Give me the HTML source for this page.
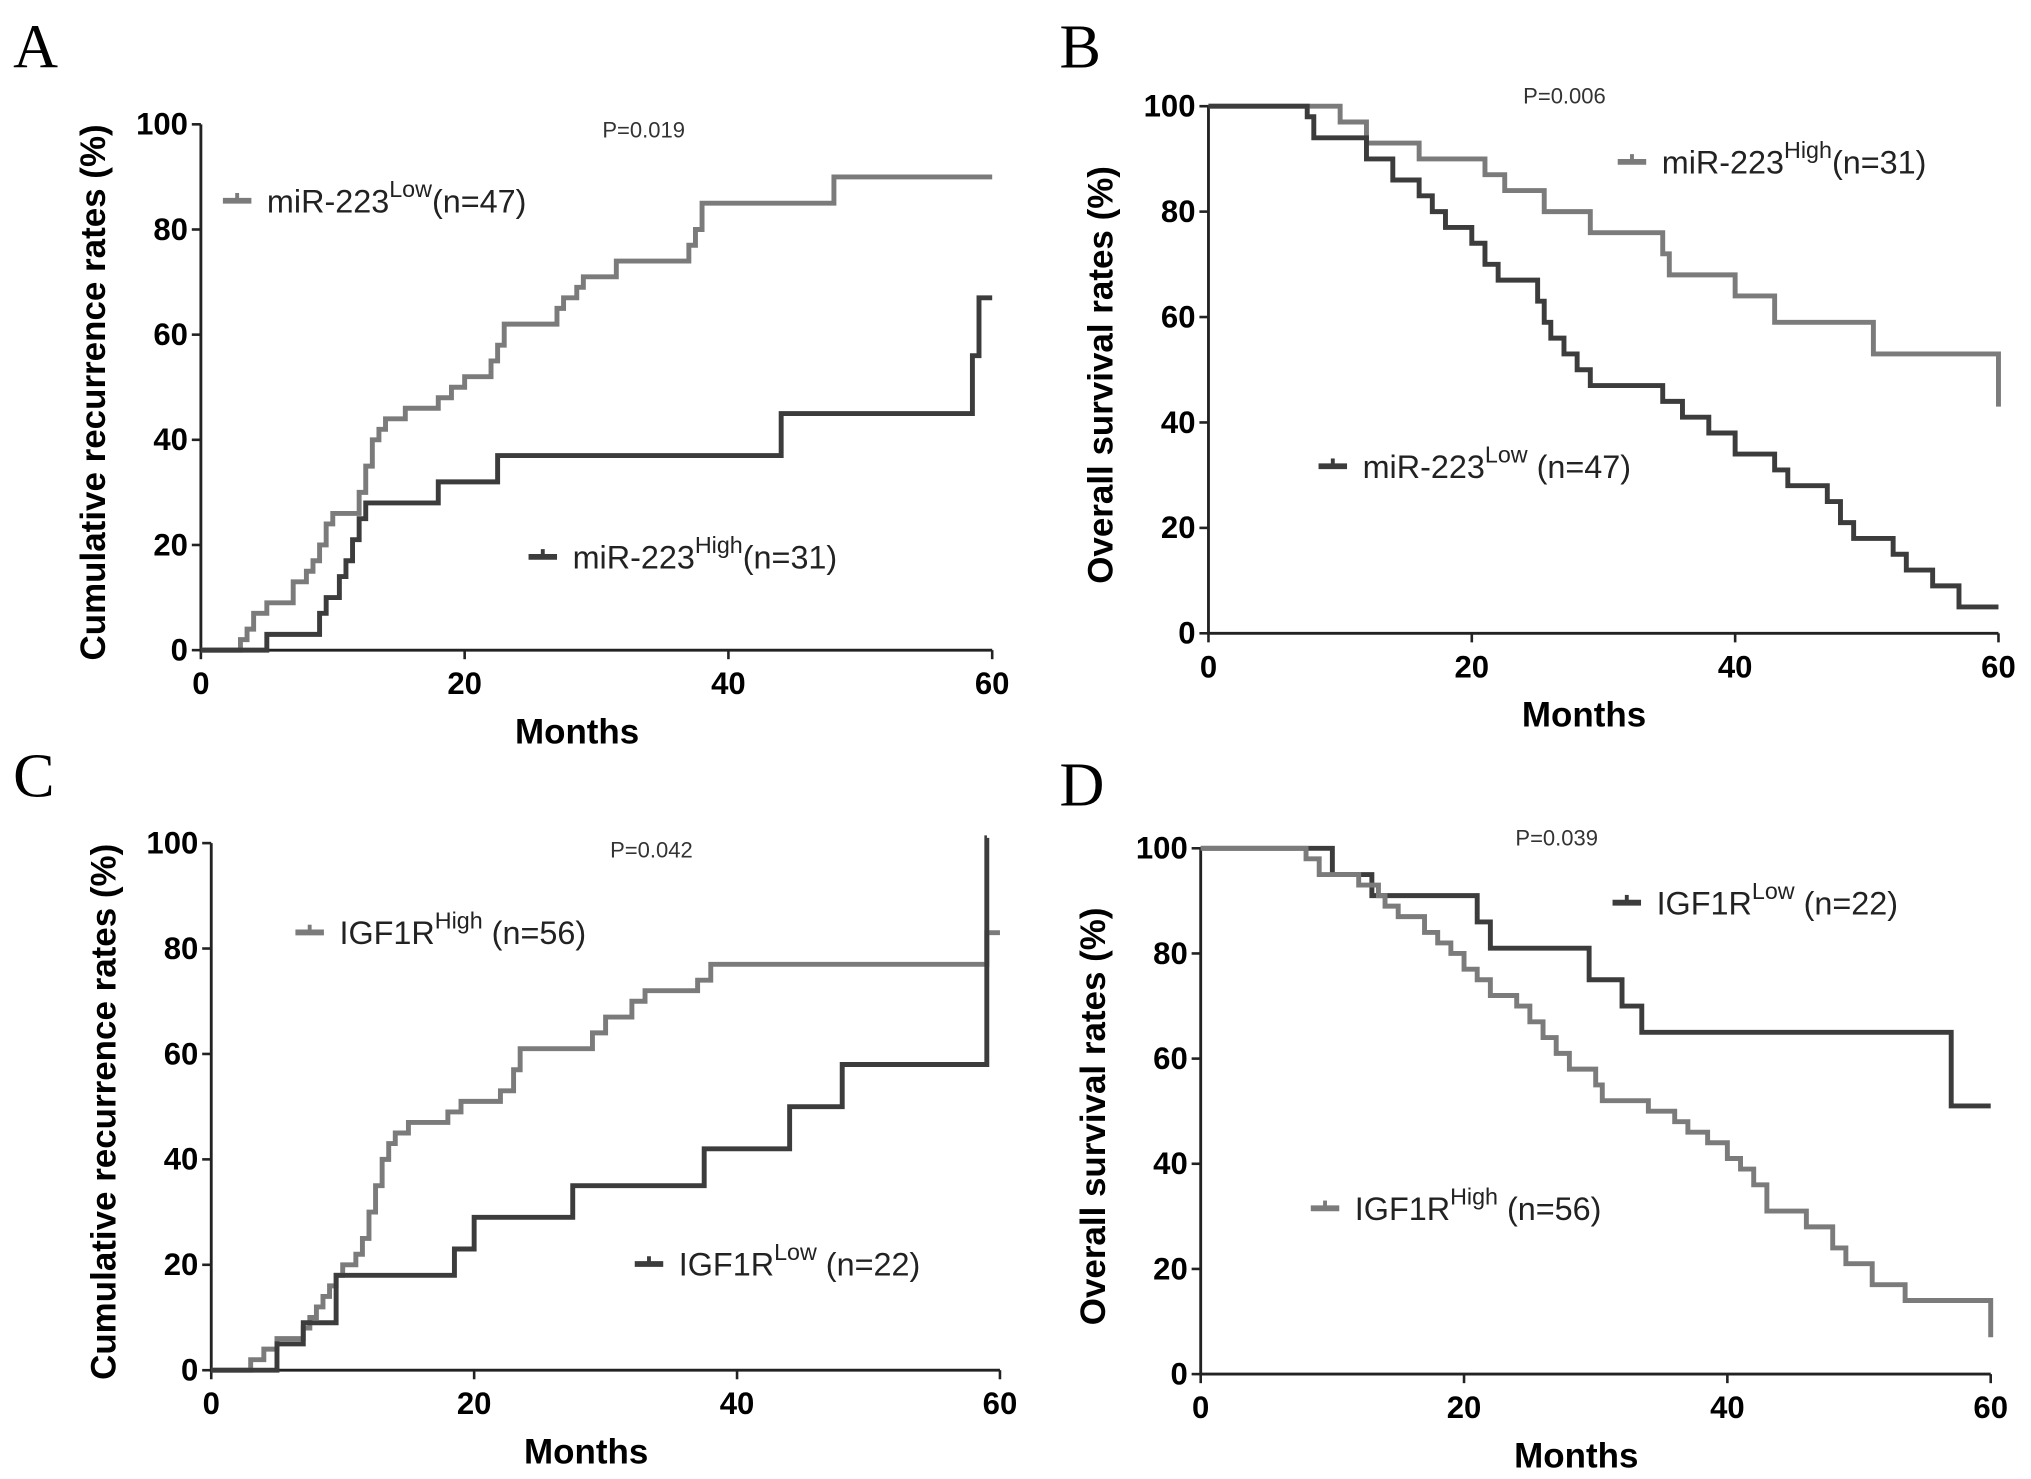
<!DOCTYPE html>
<html><head><meta charset="utf-8"><style>
html,body{margin:0;padding:0;background:#fff;}
svg{display:block;}
text{font-family:"Liberation Sans",sans-serif;}
.tick{font-weight:bold;font-size:24px;}
.ytitle{font-weight:bold;font-size:27px;}
.xtitle{font-weight:bold;font-size:27px;}
.plab{font-family:"Liberation Serif",serif;font-size:48px;}
.pval{font-size:17px;fill:#333;}
.leg{font-size:25px;fill:#222;}
</style></head><body>
<svg id="fig" width="2031" height="1479" viewBox="0 0 1568 1142" xmlns="http://www.w3.org/2000/svg"></svg>
<script>
// ---- data: step curves (time in months, value in % from that time on) ----
const xTicks = [0, 20, 40, 60];
const yTicks = [0, 20, 40, 60, 80, 100];
const aLowT = [0,3,3.5,4,5,7,8,8.5,9,9.5,10,12,12.5,13,13.5,14,15.5,18,19,20,22,22.5,23,27,27.5,28.5,29,31.5,37,37.5,38,48,60];
const aLowV = [0,2,4,7,9,13,15,17,20,24,26,30,35,40,42,44,46,48,50,52,55,58,62,65,67,69,71,74,77,80,85,90,90];
const aHighT = [0,5,9,9.5,10.5,11,11.5,12,12.5,18,22.5,44,58.5,59,60];
const aHighV = [0,3,7,10,14,17,21,25,28,32,37,45,56,67,67];
const bHighT = [0,10,12,16,21,22.5,25.5,29,34.5,35,40,43,50.5,60];
const bHighV = [100,97,93,90,87,84,80,76,72,68,64,59,53,43];
const bLowT = [0,7.5,8,12,14,16,17,18,20,21,22,25,25.5,26,27,28,29,34.5,36,38,40,43,44,47,48,49,52,53,55,57,60];
const bLowV = [100,98,94,90,86,83,80,77,74,70,67,63,59,56,53,50,47,44,41,38,34,31,28,25,21,18,15,12,9,5,5];
const cHighT = [0,3,4,5,7,7.5,8,8.5,9,9.5,10,11,11.5,12,12.5,13,13.5,14,15,18,19,22,23,23.5,29,30,32,33,37,38,59,60];
const cHighV = [0,2,4,6,8,10,12,14,16,18,20,22,25,30,35,40,43,45,47,49,51,53,57,61,64,67,70,72,74,77,83,83];
const cLowT = [0,5,7,9.5,18.5,20,27.5,37.5,44,48,59,59.01];
const cLowV = [0,5,9,18,23,29,35,42,50,58,101,101];
const dLowT = [0,10,13,21,22,29.5,32,33.5,57,60];
const dLowV = [100,95,91,86,81,75,70,65,51,51];
const dHighT = [0,8,9,12,13.5,14,15,17,18,19,20,21,22,24,25,26,27,28,30,30.5,34,36,37,38.5,40,41,42,43,46,48,49,51,53.5,60];
const dHighV = [100,98,95,93,91,89,87,84,82,80,77,75,72,70,67,64,61,58,55,52,50,48,46,44,41,39,36,31,28,24,21,17,14,7];

const NS = "http://www.w3.org/2000/svg";
const svg = document.getElementById('fig');
function el(tag, attrs, parent){const e=document.createElementNS(NS,tag);for(const k in attrs)e.setAttribute(k,attrs[k]);(parent||svg).appendChild(e);return e;}

const panels = [
 {id:'a',letter:'A',lx:10,ly:52,x0:155,x1:766,y0:502,y1:96,ytitle:'Cumulative recurrence rates (%)',p:'P=0.019',px:465,py:106,
  series:[{t:aLowT,v:aLowV,c:'#7b7b7b',lab:'miR-223',sup:'Low',n:'(n=47)',lx:172,ly:155},
          {t:aHighT,v:aHighV,c:'#3c3c3c',lab:'miR-223',sup:'High',n:'(n=31)',lx:408,ly:430}]},
 {id:'b',letter:'B',lx:818,ly:52,x0:933,x1:1543,y0:489,y1:82,ytitle:'Overall survival rates (%)',p:'P=0.006',px:1176,py:80,
  series:[{t:bHighT,v:bHighV,c:'#7b7b7b',lab:'miR-223',sup:'High',n:'(n=31)',lx:1249,ly:125},
          {t:bLowT,v:bLowV,c:'#3c3c3c',lab:'miR-223',sup:'Low',n:' (n=47)',lx:1018,ly:360}]},
 {id:'c',letter:'C',lx:10,ly:615,x0:163,x1:772,y0:1058,y1:651,ytitle:'Cumulative recurrence rates (%)',p:'P=0.042',px:471,py:662,
  series:[{t:cHighT,v:cHighV,c:'#7b7b7b',lab:'IGF1R',sup:'High',n:' (n=56)',lx:228,ly:720},
          {t:cLowT,v:cLowV,c:'#3c3c3c',lab:'IGF1R',sup:'Low',n:' (n=22)',lx:490,ly:976}]},
 {id:'d',letter:'D',lx:818,ly:622,x0:927,x1:1537,y0:1061,y1:655,ytitle:'Overall survival rates (%)',p:'P=0.039',px:1170,py:653,
  series:[{t:dLowT,v:dLowV,c:'#3c3c3c',lab:'IGF1R',sup:'Low',n:' (n=22)',lx:1245,ly:697},
          {t:dHighT,v:dHighV,c:'#7b7b7b',lab:'IGF1R',sup:'High',n:' (n=56)',lx:1012,ly:933}]}
];

panels.forEach(P=>{
  const g = el('g',{});
  
  
  const xs = t => P.x0 + (P.x1-P.x0)*t/60;
  const ys = v => P.y0 - (P.y0-P.y1)*v/100;
  const L = el('text',{x:P.lx,y:P.ly,class:'plab'},g); L.textContent=P.letter;
   
  const ax = el('path',{d:`M${P.x0} ${P.y1}V${P.y0}H${P.x1}`,stroke:'#222','stroke-width':2.2,fill:'none'},g);
   
  yTicks.forEach(v=>{
    el('line',{x1:P.x0-7,x2:P.x0,y1:ys(v),y2:ys(v),stroke:'#222','stroke-width':2},g);
    const t=el('text',{x:P.x0-10,y:ys(v)+8,class:'tick','text-anchor':'end'},g); t.textContent=v;
     
  });
  xTicks.forEach(v=>{
    el('line',{x1:xs(v),x2:xs(v),y1:P.y0,y2:P.y0+7,stroke:'#222','stroke-width':2},g);
    const t=el('text',{x:xs(v),y:P.y0+34,class:'tick','text-anchor':'middle'},g); t.textContent=v;
     
  });
  const xt=el('text',{x:(P.x0+P.x1)/2-15,y:P.y0+72,class:'xtitle','text-anchor':'middle'},g); xt.textContent='Months';
   
  const cy=(P.y0+P.y1)/2+4;
  const yt=el('text',{x:P.x0-74,y:cy,class:'ytitle','text-anchor':'middle',transform:`rotate(-90 ${P.x0-74} ${cy})`},g); yt.textContent=P.ytitle;
   
  const pv=el('text',{x:P.px,y:P.py,class:'pval'},g); pv.textContent=P.p;
   
  P.series.forEach((s,i)=>{
    let d=`M${xs(s.t[0])} ${ys(s.v[0])}`;
    for(let k=1;k<s.t.length;k++){ d+=`H${xs(s.t[k])}V${ys(s.v[k])}`; }
    const path=el('path',{d:d,stroke:s.c,'stroke-width':3.8,fill:'none'},g);
    
    
    const lg=el('g',{},g);
    
    
    el('line',{x1:s.lx,x2:s.lx+22,y1:s.ly,y2:s.ly,stroke:s.c,'stroke-width':4.5},lg);
    el('line',{x1:s.lx+11,x2:s.lx+11,y1:s.ly-6,y2:s.ly,stroke:s.c,'stroke-width':3},lg);
    const t=el('text',{x:s.lx+34,y:s.ly+9,class:'leg'},lg);
    t.appendChild(document.createTextNode(s.lab));
    const sp=el('tspan',{dy:-12,'font-size':18},t); sp.textContent=s.sup;
    const sn=el('tspan',{dy:12},t); sn.textContent=s.n;
  });
});
</script>
</body></html>
